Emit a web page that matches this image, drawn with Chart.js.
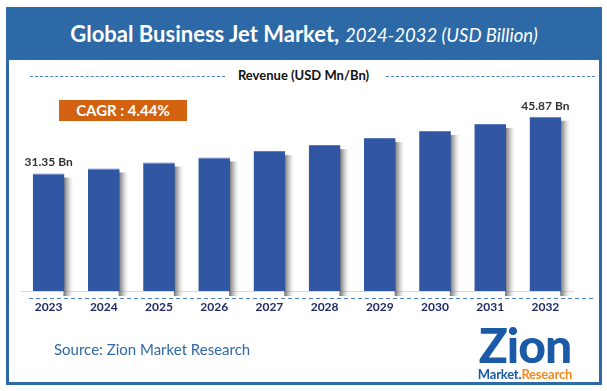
<!DOCTYPE html>
<html>
<head>
<meta charset="utf-8">
<script src="https://cdn.jsdelivr.net/npm/chart.js@4.4.1/dist/chart.umd.min.js"></script>
<style>
  html, body { margin: 0; padding: 0; background: #fff; }
  body { width: 607px; height: 391px; position: relative; overflow: hidden; font-family: Lato, "Open Sans", sans-serif; }
  #frame { position: absolute; left: 6px; top: 7px; width: 590px; height: 372px; border: 3px solid #2e6aa8; }
  #header { position: absolute; left: 6px; top: 7px; width: 596px; height: 53px; background: #2d69a6; color: #fff;
            text-align: center; line-height: 54px; font-size: 22px; white-space: nowrap; }
  #header b { font-weight: 700; }
  #header i { font-weight: 400; font-size: 18.5px; }
  .dash { position: absolute; top: 76px; border-top: 1.5px dashed #4a7fc8; height: 0; }
  #sub { position: absolute; left: 0; width: 607px; top: 67px; text-align: center; font-size: 13px; font-weight: 700; color: #111; }
  #cagr { position: absolute; left: 59px; top: 100px; width: 128px; height: 21px; background: #d2620f; color: #fff;
          font-size: 15px; font-weight: 700; text-align: center; line-height: 21px; }
  #source { position: absolute; left: 54px; top: 340px; font-size: 15px; color: #2e6aa8; }
  #logo { position: absolute; left: 470px; top: 322px; width: 110px; text-align: center; }
  #logo .z { font-size: 48px; font-weight: 900; color: #1a5aa6; line-height: 46px; letter-spacing: -1px; }
  #logo .z span { color: #1a5aa6; }
  #logo .m { font-size: 13px; font-weight: 700; line-height: 13px; color: #1a5aa6; letter-spacing: -0.2px; }
  #logo .m span { color: #f08a1c; }
  #chart { position: absolute; left: 0; top: 0; }
</style>
</head>
<body>
<div id="frame"></div>
<div id="header"><b>Global Business Jet Market,</b> <i>2024-2032 (USD Billion)</i></div>
<div class="dash" style="left:30px;width:195px"></div>
<div class="dash" style="left:386px;width:209px"></div>
<div id="sub">Revenue (USD Mn/Bn)</div>
<canvas id="chart" width="607" height="391"></canvas>
<div id="cagr">CAGR : 4.44%</div>
<div id="source">Source: Zion Market Research</div>
<div id="logo"><div class="z">Zion</div><div class="m">Market.<span>Research</span></div></div>

<script>
// values (USD Billion)
const years = ['2023', '2024', '2025', '2026', '2027', '2028', '2029', '2030', '2031', '2032'];
const revenue = [31.35, 32.63, 34.17, 35.45, 37.07, 38.61, 40.40, 42.20, 43.99, 45.87];
const labelled = [0, 9]; // only first and last bar carry a value label

// gray shade fading out to the right of each bar
const barShadow = {
    id: 'barShadow',
    beforeDatasetsDraw(chart) {
        const c = chart.ctx;
        const meta = chart.getDatasetMeta(0);
        c.save();
        meta.data.forEach(bar => {
            const right = bar.x + bar.width / 2;
            const g = c.createLinearGradient(right - 1, 0, right + 9, 0);
            g.addColorStop(0, 'rgba(60,60,60,0.75)');
            g.addColorStop(0.45, 'rgba(120,120,120,0.45)');
            g.addColorStop(1, 'rgba(200,200,200,0)');
            c.fillStyle = g;
            c.fillRect(right - 1, bar.y + 4, 10, bar.base - bar.y - 4);
        });
        c.restore();
    }
};

// "xx.xx Bn" labels + dashed line under the axis
const extras = {
    id: 'extras',
    afterDraw(chart) {
        const c = chart.ctx;
        const meta = chart.getDatasetMeta(0);
        c.save();
        c.font = 'bold 12px Lato, sans-serif';
        c.fillStyle = '#333';
        c.textAlign = 'center';
        c.textBaseline = 'bottom';
        labelled.forEach(i => {
            const bar = meta.data[i];
            c.fillText(revenue[i].toFixed(2) + ' Bn', bar.x, bar.y - 5);
        });
        const base = chart.scales.y.bottom;
        c.strokeStyle = '#4a7fc8';
        c.lineWidth = 1.2;
        c.setLineDash([4, 3]);
        c.beginPath();
        c.moveTo(29, base + 7.5);
        c.lineTo(595, base + 7.5);
        c.stroke();
        c.restore();
    }
};

new Chart(document.getElementById('chart'), {
    type: 'bar',
    data: {
        labels: years,
        datasets: [{
            data: revenue,
            backgroundColor: '#3156a3',
            borderColor: '#5a7cc0',
            borderWidth: { top: 1, left: 0, right: 0, bottom: 0 },
            categoryPercentage: 1,
            barPercentage: 0.575
        }]
    },
    options: {
        responsive: false,
        animation: false,
        layout: { padding: { left: 21, right: 34, top: 100, bottom: 70 } },
        plugins: { legend: { display: false }, tooltip: { enabled: false } },
        scales: {
            x: {
                grid: { display: false },
                border: { display: true, color: '#d9d9d9', width: 1 },
                ticks: { color: '#1f2a66', font: { family: 'Lato, sans-serif', size: 12, weight: 'bold' }, padding: 1 },
                afterFit(scale) { scale.height = 30; }
            },
            y: { display: false, min: 1.28, max: 50.15 }
        }
    },
    plugins: [barShadow, extras]
});
</script>
</body>
</html>
